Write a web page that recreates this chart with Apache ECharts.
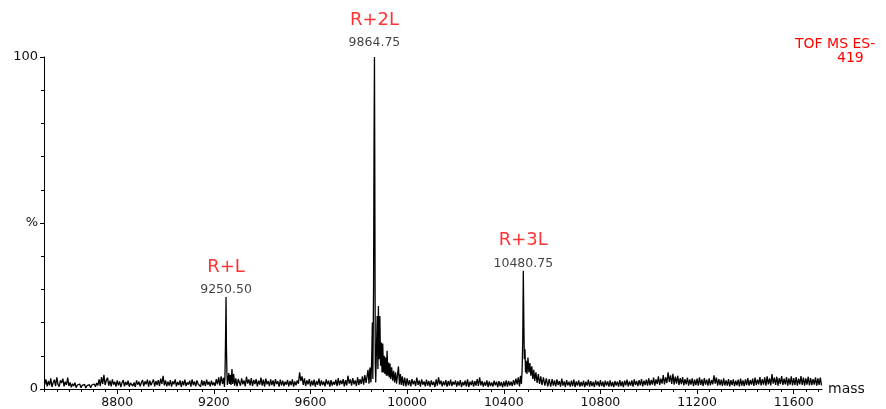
<!DOCTYPE html>
<html>
<head>
<meta charset="utf-8">
<script src="https://cdn.jsdelivr.net/npm/echarts@6/dist/echarts.min.js"></script>
<style>
  html, body { margin: 0; padding: 0; background: #fff; }
  #chart { width: 886px; height: 409px; }
</style>
</head>
<body>
<div id="chart"></div>
<script>
// ---- Spectrum data (relative intensity, %) ----
// Baseline stretches sampled every 5 Da, starting at the given mass.
const noiseStep = 5;
const baseAStart = 8500;
const baseA = [
  1.3, 2.9,
  0.8, 2.4, 1.1, 3.2, 0.6, 1.9, 2.8, 0.9, 3.5, 1.4, 0.7, 2.6, 1.8, 3.1, 0.8, 2.2, 1.2, 3.4, 0.9, 2.0,
  0.5, 1.6, 0.9, 1.9, 0.4, 1.2, 0.7, 1.5, 0.4, 1.1, 0.6, 1.4, 0.3, 1.0, 0.5, 1.3, 0.4, 1.2, 0.6, 1.5,
  0.7, 1.8, 1.1, 2.9, 0.9, 3.6, 1.5, 4.3, 1.2, 2.6, 3.4, 1.0, 2.5, 0.8, 2.9, 1.3, 2.2, 0.7, 2.6, 1.1,
  2.3, 0.6, 1.9, 2.7, 0.8, 2.1, 1.2, 2.5, 0.7, 1.8, 2.4, 0.9, 2.0, 0.6, 2.6, 1.3, 2.2, 0.8, 1.9, 2.7,
  0.9, 2.3, 1.4, 2.8, 0.7, 2.5, 1.1, 2.0, 2.9, 0.8, 2.4, 1.2, 2.7, 0.9, 3.1, 1.5, 4.0, 1.1, 2.6, 0.8,
  2.2, 1.0, 2.7, 0.7, 2.3, 1.4, 2.9, 0.8, 2.1, 1.2, 2.6, 0.6, 2.4, 1.1, 2.8, 0.9, 2.0, 1.3, 2.5, 0.7,
  2.9, 1.2, 2.3, 0.8, 2.6, 1.5, 2.1, 0.7, 2.7, 1.0, 2.4, 0.9, 2.8, 1.3, 2.2, 0.8, 2.5, 1.1, 2.0, 0.9,
  3.0, 1.4, 3.5, 1.0, 3.8];
const baseBStart = 9310;
const baseB = [
  1.0, 3.2, 1.4, 2.6, 0.8, 3.7, 1.6, 2.9, 1.1, 3.3, 0.9, 2.7, 1.5, 3.0, 0.8, 2.5, 1.3, 3.4, 1.0, 2.8,
  0.7, 3.1, 1.4, 2.4, 0.9, 2.9, 1.2, 2.6, 0.8, 3.0, 1.5, 2.3, 0.7, 2.8, 1.1, 2.5, 0.9, 2.2, 1.3, 2.7,
  0.8, 2.4, 1.2, 2.9, 0.7, 2.3, 1.1, 2.6, 1.6, 5.0, 2.4, 3.8, 1.2, 3.2, 0.9, 2.6, 1.4, 3.0, 0.8, 2.5,
  1.1, 2.8, 0.7, 2.4, 1.3, 3.1, 0.9, 2.6, 1.2, 2.3, 0.8, 2.9, 1.4, 2.5, 0.7, 2.7, 1.0, 2.2, 1.3, 2.8,
  0.9, 3.3, 1.2, 2.6, 1.5, 3.0, 0.8, 2.7, 1.1, 4.0, 1.6, 2.9, 1.0, 3.3, 1.4, 2.6, 0.9, 3.5, 1.2, 3.0,
  1.5, 3.8, 1.3, 4.2, 1.8];
const baseCStart = 10000;
const baseC = [
  3.2, 1.1, 2.7, 0.8, 3.0, 1.4, 2.5, 0.9, 3.4, 1.2, 2.6, 0.7, 2.9, 1.3, 2.3, 0.8, 2.8, 1.0, 2.4, 0.7,
  2.6, 1.2, 2.2, 0.6, 2.9, 1.0, 3.5, 1.4, 2.5, 0.8, 2.3, 1.1, 2.7, 0.7, 2.4, 1.0, 2.8, 0.9, 2.2, 1.3,
  2.6, 0.7, 2.3, 1.0, 2.7, 0.6, 2.1, 1.1, 2.5, 0.8, 2.9, 0.6, 2.2, 1.2, 2.6, 0.7, 2.4, 1.0, 3.0, 0.9,
  3.5, 1.1, 2.4, 0.7, 2.1, 1.0, 2.6, 0.6, 2.3, 0.9, 2.0, 0.7, 2.5, 1.1, 2.2, 0.6, 2.4, 0.9, 2.1, 0.5,
  2.3, 0.8, 2.6, 0.7, 2.4, 1.0, 2.2, 0.9, 2.7, 1.2, 3.1, 1.4, 3.5];
const baseDStart = 10600;
const baseD = [
  3.0, 1.0, 2.6, 0.8, 2.9, 1.2, 2.4, 0.7, 3.1, 1.0, 2.3, 0.6, 2.7, 1.1, 2.2, 0.7, 2.5, 0.9, 2.8, 0.6,
  2.3, 1.0, 2.6, 0.7, 2.1, 0.9, 2.5, 0.6, 2.2, 1.0, 2.8, 0.7, 2.4, 0.9, 2.1, 0.6, 2.6, 1.1, 2.3, 0.7,
  2.7, 0.9, 2.2, 0.6, 2.5, 1.0, 2.3, 0.7, 2.6, 0.8, 2.1, 0.6, 2.4, 1.0, 2.2, 0.7, 2.7, 0.9, 2.3, 0.6,
  2.5, 1.1, 2.8, 0.8, 2.3, 1.0, 2.6, 0.7, 2.9, 1.2, 2.4, 0.9, 2.7, 1.1, 3.0, 0.8, 2.5, 1.2, 2.8, 1.0,
  3.2, 1.1, 2.7, 1.3, 3.4, 1.0, 2.9, 1.5, 3.8, 1.2, 3.1, 1.6, 4.2, 1.4, 3.5, 1.8, 5.0, 2.1, 4.1, 1.5,
  4.6, 1.3, 3.7, 1.6, 4.0, 1.2, 3.3, 1.5, 3.6, 1.1, 3.0, 1.4, 3.4, 1.0, 2.9, 1.3, 3.2, 0.9, 2.8, 1.2,
  3.1, 1.0, 3.5, 1.2, 2.9, 0.9, 3.3, 1.3, 2.8, 1.0, 3.2, 1.1, 2.7, 1.4, 4.1, 1.6, 3.4, 1.0, 3.0, 1.2,
  2.8, 0.9, 3.2, 1.1, 2.6, 1.0, 3.0, 0.8, 2.7, 1.2, 2.9, 0.9, 2.5, 1.1, 2.8, 0.8, 3.1, 1.0, 2.6, 0.9,
  2.9, 1.2, 3.3, 1.0, 2.7, 1.3, 3.1, 0.9, 3.4, 1.2, 2.8, 1.4, 3.6, 1.1, 3.0, 1.3, 3.5, 1.0, 3.8, 1.4,
  3.2, 1.1, 4.5, 1.6, 3.4, 1.2, 3.7, 1.0, 3.3, 1.5, 3.9, 1.2, 3.1, 1.4, 3.6, 1.0, 3.2, 1.3, 3.8, 1.1,
  3.3, 1.2, 3.6, 1.0, 3.1, 1.4, 3.9, 1.2, 3.4, 1.0, 3.2, 1.3, 3.7, 1.1, 3.3, 1.2, 3.0, 1.3, 3.5, 1.0,
  3.2, 1.2, 3.4, 1.1];

// Peak clusters: explicit masses and intensities.
const peak1Mass = [9236, 9240, 9244, 9246, 9248, 9250.5, 9252, 9254, 9256, 9259, 9262, 9265, 9268, 9271, 9275, 9278, 9282, 9286, 9291, 9296, 9301];
const peak1Int  = [1.5, 3.4, 0.6, 4.0, 13, 27.7, 13, 5, 1.2, 0.6, 4.8, 1.5, 4.2, 1.2, 6.0, 1.5, 4.5, 1.0, 3.2, 0.8, 3.0];

const peak2Mass = [9834, 9838, 9842, 9846, 9850, 9853, 9856, 9858, 9861, 9863, 9864.75, 9866, 9868, 9870, 9873, 9876, 9879, 9881, 9884, 9887,
  9890, 9893, 9896, 9899, 9902, 9905, 9908, 9911, 9914, 9917, 9920, 9923, 9926, 9929, 9932, 9936, 9940, 9944, 9948, 9952,
  9956, 9960, 9964, 9968, 9972, 9976, 9980, 9985, 9990, 9995];
const peak2Int  = [1.2, 5.8, 1.6, 6.5, 2.0, 8, 20, 3, 30, 75, 100, 70, 8, 2, 12, 22, 6, 25, 9, 22,
  7, 14, 5, 13.7, 5, 10, 4.5, 9.5, 4, 11.5, 4, 8, 3.5, 7.7, 3.0, 6.5, 2.5, 5.5, 2.0, 5,
  1.6, 4.2, 6.8, 1.4, 4.5, 1.2, 3.8, 0.9, 3.4, 0.8];

const peak3Mass = [10465, 10469, 10473, 10476, 10478.5, 10480.75, 10483, 10485, 10487.7, 10490, 10493, 10496, 10500, 10504, 10508, 10512, 10516, 10520, 10524, 10528,
  10533, 10538, 10543, 10548, 10553, 10558, 10564, 10570, 10576, 10582, 10588, 10594];
const peak3Int  = [0.8, 4.0, 1.5, 6, 15, 35.6, 20, 9, 12, 5, 8.5, 4.5, 9.5, 5, 7.8, 4, 6.8, 3.0, 5.8, 2.4,
  5, 1.8, 4.5, 1.5, 3.8, 1.2, 3.5, 1.0, 3.2, 0.8, 3.0, 0.7];

// Annotated peaks
const peakNames = ['R+L', 'R+2L', 'R+3L'];
const peakMasses = [9250.5, 9864.75, 10480.75];
const peakHeights = [27.7, 100, 35.6];

// Axis tick labels
const xTickValues = [8800, 9200, 9600, 10000, 10400, 10800, 11200, 11600];
const yTickText = { 0: '0', 50: '%', 100: '100' };

// ---- Build the trace ----
function stretch(start, values) {
  return values.map((v, i) => [start + i * noiseStep, v]);
}
function pairs(masses, values) {
  return masses.map((m, i) => [m, values[i]]);
}
const trace = [].concat(
  stretch(baseAStart, baseA),
  pairs(peak1Mass, peak1Int),
  stretch(baseBStart, baseB),
  pairs(peak2Mass, peak2Int),
  stretch(baseCStart, baseC),
  pairs(peak3Mass, peak3Int),
  stretch(baseDStart, baseD)
).sort((a, b) => a[0] - b[0]);

const xMin = 8497, xMax = 11717;
const minorTicks = [];
for (let m = 8500; m < xMax; m += 50) minorTicks.push(m);

const FONT = 'DejaVu Sans';
const RED = '#ff0000';
const labelGap = [0, 7, 0];

const chart = echarts.init(document.getElementById('chart'), null, { renderer: 'canvas' });
chart.setOption({
  animation: false,
  backgroundColor: '#fff',
  grid: { left: 44, right: 64, top: 57, bottom: 16, containLabel: false },
  xAxis: [{
    type: 'value', min: xMin, max: xMax,
    name: 'mass', nameLocation: 'end', nameGap: 6,
    nameTextStyle: { fontFamily: FONT, fontSize: 14, color: '#111' },
    axisLine: { show: true, lineStyle: { color: '#000', width: 1 } },
    axisTick: { show: true, length: 5, customValues: xTickValues, lineStyle: { color: '#000' } },
    axisLabel: {
      customValues: xTickValues, fontFamily: FONT, fontSize: 12.5, color: '#111', margin: 7,
      formatter: v => String(v)
    },
    splitLine: { show: false }
  }, {
    type: 'value', min: xMin, max: xMax, position: 'bottom',
    axisLine: { show: false },
    axisTick: { show: true, length: 3, customValues: minorTicks, lineStyle: { color: '#000' } },
    axisLabel: { show: false },
    splitLine: { show: false }
  }],
  yAxis: {
    type: 'value', min: 0, max: 100, interval: 50,
    axisLine: { show: true, lineStyle: { color: '#000', width: 1 } },
    axisTick: { show: true, length: 4, lineStyle: { color: '#000' } },
    minorTick: { show: true, splitNumber: 5, length: 3, lineStyle: { color: '#000' } },
    axisLabel: {
      fontFamily: FONT, fontSize: 13, color: '#111', margin: 6,
      formatter: v => yTickText[v] !== undefined ? yTickText[v] : ''
    },
    splitLine: { show: false }
  },
  graphic: [
    { type: 'text', left: 795, top: 37, style: { text: 'TOF MS ES-', fill: RED, font: '14px "DejaVu Sans"' } },
    { type: 'text', left: 837, top: 51, style: { text: '419', fill: RED, font: '14px "DejaVu Sans"' } }
  ],
  series: [{
    type: 'line',
    data: trace,
    showSymbol: false,
    sampling: null,
    lineStyle: { color: '#000', width: 1.3 },
    z: 2
  }, {
    type: 'scatter',
    symbolSize: 0,
    silent: true,
    data: peakMasses.map((m, i) => ({
      value: [m, peakHeights[i]],
      name: peakNames[i],
      label: { distance: labelGap[i] }
    })),
    label: {
      show: true,
      position: 'top',
      formatter: p => '{n|' + p.name + '}\n{m|' + p.value[0].toFixed(2) + '}',
      rich: {
        n: { fontFamily: FONT, fontSize: 18, color: RED, lineHeight: 32, align: 'center' },
        m: { fontFamily: FONT, fontSize: 12.5, color: '#111', lineHeight: 14, align: 'center' }
      }
    },
    z: 3
  }]
});
</script>
</body>
</html>
